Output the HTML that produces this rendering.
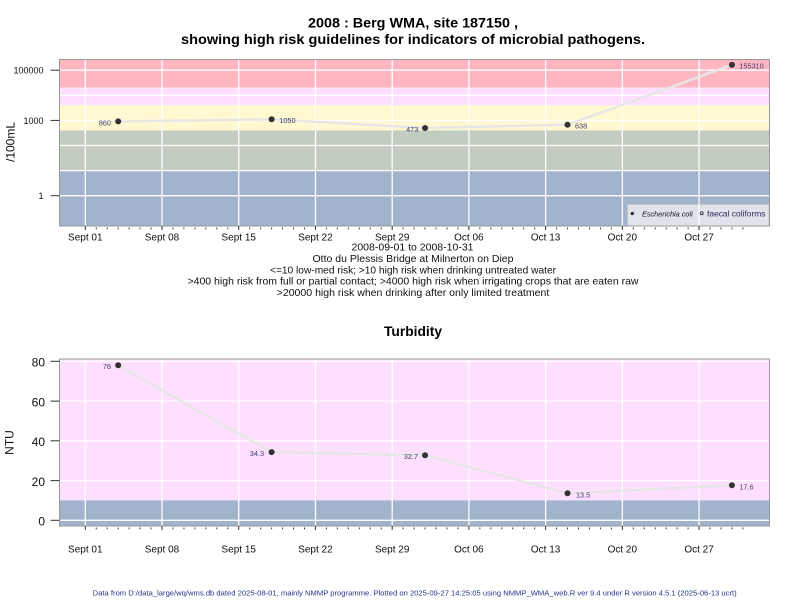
<!DOCTYPE html>
<html>
<head>
<meta charset="utf-8">
<style>
  html,body{margin:0;padding:0;background:#fff;}
  svg{display:block;font-family:"Liberation Sans",Arial,sans-serif;}
</style>
</head>
<body>
<svg width="800" height="600" viewBox="0 0 800 600" xmlns="http://www.w3.org/2000/svg">
  <rect x="0" y="0" width="800" height="600" fill="#ffffff"/>

  <!-- Titles -->
  <text x="413" y="27.3" font-size="14" font-weight="bold" text-anchor="middle" fill="#000" textLength="210" lengthAdjust="spacingAndGlyphs">2008 : Berg WMA, site 187150 ,</text>
  <text x="413" y="44" font-size="14" font-weight="bold" text-anchor="middle" fill="#000" textLength="464" lengthAdjust="spacingAndGlyphs">showing high risk guidelines for indicators of microbial pathogens.</text>

  <!-- ===== TOP PANEL ===== -->
  <!-- bands -->
  <rect x="59.5" y="59.5" width="710" height="28.2" fill="#ffb6c1"/>
  <rect x="59.5" y="87.7" width="710" height="17.6" fill="#ffdfff"/>
  <rect x="59.5" y="105.3" width="710" height="25.1" fill="#fff8d0"/>
  <rect x="59.5" y="130.4" width="710" height="40.2" fill="#c3ccc0"/>
  <rect x="59.5" y="170.6" width="710" height="55.4" fill="#a2b4cc"/>

  <!-- legend -->
  <rect x="627.5" y="204.5" width="141.5" height="21.5" fill="#dfe4ec" stroke="#c4c4c4" stroke-width="1"/>

  <!-- gridlines -->
  <g stroke="#ffffff" stroke-width="1.3">
    <line x1="59.5" x2="769" y1="70.2" y2="70.2"/>
    <line x1="59.5" x2="769" y1="95.3" y2="95.3"/>
    <line x1="59.5" x2="769" y1="120.4" y2="120.4"/>
    <line x1="59.5" x2="769" y1="145.5" y2="145.5"/>
    <line x1="59.5" x2="769" y1="170.6" y2="170.6"/>
    <line x1="59.5" x2="769" y1="195.7" y2="195.7"/>
    <line x1="85.3" x2="85.3" y1="59.5" y2="226"/>
    <line x1="162.02" x2="162.02" y1="59.5" y2="226"/>
    <line x1="238.74" x2="238.74" y1="59.5" y2="226"/>
    <line x1="315.46" x2="315.46" y1="59.5" y2="226"/>
    <line x1="392.18" x2="392.18" y1="59.5" y2="226"/>
    <line x1="468.9" x2="468.9" y1="59.5" y2="226"/>
    <line x1="545.62" x2="545.62" y1="59.5" y2="226"/>
    <line x1="622.34" x2="622.34" y1="59.5" y2="226"/>
    <line x1="699.06" x2="699.06" y1="59.5" y2="226"/>
  </g>

  <!-- legend contents -->
  <circle cx="632.3" cy="213.5" r="1.6" fill="#222"/>
  <text x="642" y="216.5" font-size="7.5" font-style="italic" fill="#111" textLength="50.7" lengthAdjust="spacingAndGlyphs">Escherichia coli</text>
  <circle cx="701.7" cy="213.3" r="1.5" fill="none" stroke="#333" stroke-width="0.9"/>
  <text x="707" y="216.5" font-size="8" fill="#2a2a5a" textLength="58.5" lengthAdjust="spacingAndGlyphs">faecal coliforms</text>

  <!-- series -->
  <polyline points="118.18,121.4 271.62,119.3 425.06,128.0 567.54,124.7 731.94,64.9" fill="none" stroke="#e6e6e6" stroke-width="2.4" stroke-linejoin="round"/>
  <g fill="#333">
    <circle cx="118.18" cy="121.4" r="3"/>
    <circle cx="271.62" cy="119.3" r="3"/>
    <circle cx="425.06" cy="128.0" r="3"/>
    <circle cx="567.54" cy="124.7" r="3"/>
    <circle cx="731.94" cy="64.9" r="3"/>
  </g>
  <g font-size="7.3" fill="#3e3e6e">
    <text x="111" y="125.3" text-anchor="end">860</text>
    <text x="279.3" y="123" >1050</text>
    <text x="418.3" y="131.8" text-anchor="end">473</text>
    <text x="575" y="128.3">638</text>
    <text x="739.3" y="68.5">155310</text>
  </g>

  <!-- border -->
  <rect x="59.5" y="59.5" width="710" height="166.5" fill="none" stroke="#999" stroke-width="1"/>

  <!-- y axis ticks & labels -->
  <g stroke="#333" stroke-width="1">
    <line x1="50.5" x2="59.5" y1="70.2" y2="70.2"/>
    <line x1="50.5" x2="59.5" y1="120.4" y2="120.4"/>
    <line x1="50.5" x2="59.5" y1="195.7" y2="195.7"/>
  </g>
  <g font-size="9" fill="#111" text-anchor="end">
    <text x="43.5" y="73.6">100000</text>
    <text x="43.5" y="123.8">1000</text>
    <text x="43.5" y="199.1">1</text>
  </g>
  <text transform="translate(14.5,142) rotate(-90)" font-size="12" text-anchor="middle" fill="#111">/100mL</text>

  <!-- x axis ticks top -->
  <path stroke="#333" stroke-width="1" fill="none" d="M85.3 226v4 M162.02 226v4 M238.74 226v4 M315.46 226v4 M392.18 226v4 M468.9 226v4 M545.62 226v4 M622.34 226v4 M699.06 226v4"/>
  <path stroke="#333" stroke-width="1" fill="none" d="M96.26 227.5v1.8 M107.22 227.5v1.8 M118.18 227.5v1.8 M129.14 227.5v1.8 M140.1 227.5v1.8 M151.06 227.5v1.8 M172.98 227.5v1.8 M183.94 227.5v1.8 M194.9 227.5v1.8 M205.86 227.5v1.8 M216.82 227.5v1.8 M227.78 227.5v1.8 M249.7 227.5v1.8 M260.66 227.5v1.8 M271.62 227.5v1.8 M282.58 227.5v1.8 M293.54 227.5v1.8 M304.5 227.5v1.8 M326.42 227.5v1.8 M337.38 227.5v1.8 M348.34 227.5v1.8 M359.3 227.5v1.8 M370.26 227.5v1.8 M381.22 227.5v1.8 M403.14 227.5v1.8 M414.1 227.5v1.8 M425.06 227.5v1.8 M436.02 227.5v1.8 M446.98 227.5v1.8 M457.94 227.5v1.8 M479.86 227.5v1.8 M490.82 227.5v1.8 M501.78 227.5v1.8 M512.74 227.5v1.8 M523.7 227.5v1.8 M534.66 227.5v1.8 M556.58 227.5v1.8 M567.54 227.5v1.8 M578.5 227.5v1.8 M589.46 227.5v1.8 M600.42 227.5v1.8 M611.38 227.5v1.8 M633.3 227.5v1.8 M644.26 227.5v1.8 M655.22 227.5v1.8 M666.18 227.5v1.8 M677.14 227.5v1.8 M688.1 227.5v1.8 M710.02 227.5v1.8 M720.98 227.5v1.8 M731.94 227.5v1.8 M742.9 227.5v1.8"/>
  <g font-size="10" fill="#111" text-anchor="middle">
    <text x="85.3" y="240.5">Sept 01</text>
    <text x="162.02" y="240.5">Sept 08</text>
    <text x="238.74" y="240.5">Sept 15</text>
    <text x="315.46" y="240.5">Sept 22</text>
    <text x="392.18" y="240.5">Sept 29</text>
    <text x="468.9" y="240.5">Oct 06</text>
    <text x="545.62" y="240.5">Oct 13</text>
    <text x="622.34" y="240.5">Oct 20</text>
    <text x="699.06" y="240.5">Oct 27</text>
  </g>

  <!-- subtitle lines -->
  <g font-size="10.4" fill="#111" text-anchor="middle">
    <text x="412.5" y="250.5" textLength="122" lengthAdjust="spacingAndGlyphs">2008-09-01 to 2008-10-31</text>
    <text x="413" y="262" textLength="201" lengthAdjust="spacingAndGlyphs">Otto du Plessis Bridge at Milnerton on Diep</text>
    <text x="413" y="273.3" textLength="286" lengthAdjust="spacingAndGlyphs">&lt;=10 low-med risk; &gt;10 high risk when drinking untreated water</text>
    <text x="413" y="284.7" textLength="451" lengthAdjust="spacingAndGlyphs">&gt;400 high risk from full or partial contact; &gt;4000 high risk when irrigating crops that are eaten raw</text>
    <text x="413" y="296" textLength="272.6" lengthAdjust="spacingAndGlyphs">&gt;20000 high risk when drinking after only limited treatment</text>
  </g>

  <!-- ===== BOTTOM PANEL ===== -->
  <text x="413" y="336" font-size="13.5" font-weight="bold" text-anchor="middle" fill="#000" textLength="58" lengthAdjust="spacingAndGlyphs">Turbidity</text>

  <rect x="59.5" y="359" width="710" height="141.4" fill="#ffdfff"/>
  <rect x="59.5" y="500.4" width="710" height="25.6" fill="#a2b4cc"/>

  <g stroke="#ffffff" stroke-width="1.3">
    <line x1="59.5" x2="769" y1="361.3" y2="361.3"/>
    <line x1="59.5" x2="769" y1="401.1" y2="401.1"/>
    <line x1="59.5" x2="769" y1="440.8" y2="440.8"/>
    <line x1="59.5" x2="769" y1="480.6" y2="480.6"/>
    <line x1="59.5" x2="769" y1="520.3" y2="520.3"/>
    <line x1="85.3" x2="85.3" y1="359" y2="526"/>
    <line x1="162.02" x2="162.02" y1="359" y2="526"/>
    <line x1="238.74" x2="238.74" y1="359" y2="526"/>
    <line x1="315.46" x2="315.46" y1="359" y2="526"/>
    <line x1="392.18" x2="392.18" y1="359" y2="526"/>
    <line x1="468.9" x2="468.9" y1="359" y2="526"/>
    <line x1="545.62" x2="545.62" y1="359" y2="526"/>
    <line x1="622.34" x2="622.34" y1="359" y2="526"/>
    <line x1="699.06" x2="699.06" y1="359" y2="526"/>
  </g>

  <polyline points="118.18,365.3 271.62,452.1 425.06,455.3 567.54,493.3 731.94,485.3" fill="none" stroke="#e6e6e6" stroke-width="2.4" stroke-linejoin="round"/>
  <g fill="#333">
    <circle cx="118.18" cy="365.3" r="3"/>
    <circle cx="271.62" cy="452.1" r="3"/>
    <circle cx="425.06" cy="455.3" r="3"/>
    <circle cx="567.54" cy="493.3" r="3"/>
    <circle cx="731.94" cy="485.3" r="3"/>
  </g>
  <g font-size="7.3" fill="#3e3e6e">
    <text x="111" y="369.2" text-anchor="end">78</text>
    <text x="264" y="456" text-anchor="end">34.3</text>
    <text x="418" y="459.2" text-anchor="end">32.7</text>
    <text x="576" y="497.6">13.5</text>
    <text x="739.3" y="489.3">17.6</text>
  </g>

  <rect x="59.5" y="359" width="710" height="167" fill="none" stroke="#999" stroke-width="1"/>

  <g stroke="#333" stroke-width="1">
    <line x1="50.5" x2="59.5" y1="361.3" y2="361.3"/>
    <line x1="50.5" x2="59.5" y1="401.1" y2="401.1"/>
    <line x1="50.5" x2="59.5" y1="440.8" y2="440.8"/>
    <line x1="50.5" x2="59.5" y1="480.6" y2="480.6"/>
    <line x1="50.5" x2="59.5" y1="520.3" y2="520.3"/>
  </g>
  <g font-size="12" fill="#111" text-anchor="end">
    <text x="45" y="366.6">80</text>
    <text x="45" y="406.4">60</text>
    <text x="45" y="446.1">40</text>
    <text x="45" y="485.9">20</text>
    <text x="45" y="525.3">0</text>
  </g>
  <text transform="translate(13.5,442.5) rotate(-90)" font-size="12" text-anchor="middle" fill="#111">NTU</text>

  <path stroke="#333" stroke-width="1" fill="none" d="M85.3 526v4 M162.02 526v4 M238.74 526v4 M315.46 526v4 M392.18 526v4 M468.9 526v4 M545.62 526v4 M622.34 526v4 M699.06 526v4"/>
  <path stroke="#333" stroke-width="1" fill="none" d="M96.26 527.5v1.8 M107.22 527.5v1.8 M118.18 527.5v1.8 M129.14 527.5v1.8 M140.1 527.5v1.8 M151.06 527.5v1.8 M172.98 527.5v1.8 M183.94 527.5v1.8 M194.9 527.5v1.8 M205.86 527.5v1.8 M216.82 527.5v1.8 M227.78 527.5v1.8 M249.7 527.5v1.8 M260.66 527.5v1.8 M271.62 527.5v1.8 M282.58 527.5v1.8 M293.54 527.5v1.8 M304.5 527.5v1.8 M326.42 527.5v1.8 M337.38 527.5v1.8 M348.34 527.5v1.8 M359.3 527.5v1.8 M370.26 527.5v1.8 M381.22 527.5v1.8 M403.14 527.5v1.8 M414.1 527.5v1.8 M425.06 527.5v1.8 M436.02 527.5v1.8 M446.98 527.5v1.8 M457.94 527.5v1.8 M479.86 527.5v1.8 M490.82 527.5v1.8 M501.78 527.5v1.8 M512.74 527.5v1.8 M523.7 527.5v1.8 M534.66 527.5v1.8 M556.58 527.5v1.8 M567.54 527.5v1.8 M578.5 527.5v1.8 M589.46 527.5v1.8 M600.42 527.5v1.8 M611.38 527.5v1.8 M633.3 527.5v1.8 M644.26 527.5v1.8 M655.22 527.5v1.8 M666.18 527.5v1.8 M677.14 527.5v1.8 M688.1 527.5v1.8 M710.02 527.5v1.8 M720.98 527.5v1.8 M731.94 527.5v1.8 M742.9 527.5v1.8"/>
  <g font-size="10" fill="#111" text-anchor="middle">
    <text x="85.3" y="552.5">Sept 01</text>
    <text x="162.02" y="552.5">Sept 08</text>
    <text x="238.74" y="552.5">Sept 15</text>
    <text x="315.46" y="552.5">Sept 22</text>
    <text x="392.18" y="552.5">Sept 29</text>
    <text x="468.9" y="552.5">Oct 06</text>
    <text x="545.62" y="552.5">Oct 13</text>
    <text x="622.34" y="552.5">Oct 20</text>
    <text x="699.06" y="552.5">Oct 27</text>
  </g>

  <!-- footer -->
  <text x="92.7" y="595.5" font-size="7" fill="#22358a" textLength="644" lengthAdjust="spacingAndGlyphs">Data from D:/data_large/wq/wms.db dated 2025-08-01, mainly NMMP programme. Plotted on 2025-09-27 14:25:05 using NMMP_WMA_web.R ver 9.4 under R version 4.5.1 (2025-06-13 ucrt)</text>
</svg>
</body>
</html>
